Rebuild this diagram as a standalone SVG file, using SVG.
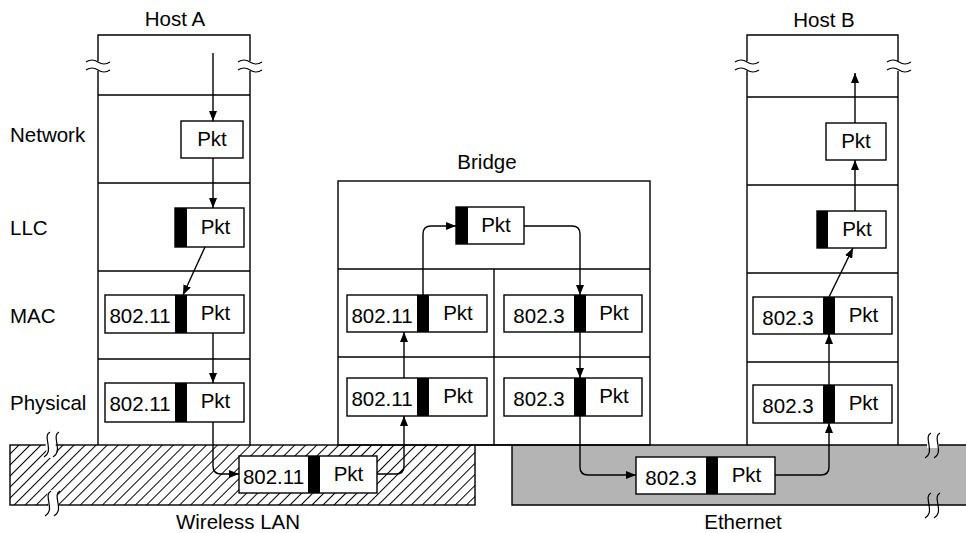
<svg xmlns="http://www.w3.org/2000/svg" width="966" height="533" viewBox="0 0 966 533">
<style>
.ln{fill:none;stroke:#000;stroke-width:1.4}
.bx{fill:#fff;stroke:#000;stroke-width:1.4}
.blk{fill:#000}
.t{font-family:"Liberation Sans",Arial,sans-serif;font-size:20.5px;fill:#000}
.m{text-anchor:middle}
.arr{fill:none;stroke:#000;stroke-width:1.4;marker-end:url(#ah)}
.brk{fill:none;stroke:#000;stroke-width:1.2}
</style>
<defs>
<marker id="ah" viewBox="0 0 10 8" refX="10" refY="4" markerWidth="10" markerHeight="8" markerUnits="userSpaceOnUse" orient="auto">
<path d="M0,0 L10,4 L0,8 z" fill="#000"/>
</marker>
<pattern id="hatch" patternUnits="userSpaceOnUse" width="7.8" height="10" patternTransform="rotate(45)">
<rect width="7.8" height="10" fill="#fff"/>
<line x1="0" y1="0" x2="0" y2="10" stroke="#000" stroke-width="2"/>
</pattern>
</defs>

<g id="media">
<rect x="10" y="445" width="465" height="60" fill="url(#hatch)" stroke="#000" stroke-width="1.4"/>
<line x1="475" y1="445" x2="512" y2="445" class="ln"/>
<path d="M966,445 H512 V505 H966" fill="#b4b4b4" stroke="#000" stroke-width="1.4"/>
<g id="breaks">
<path d="M45,438 L55,438 L57,458 L47,458 Z" fill="#fff"/>
<path d="M47,490 L57,490 L59,512 L49,512 Z" fill="#fff"/>
<path class="brk" d="M50,432 c-4,2 -3,6 -2,12 c1,6 1,10 -4,13"/>
<path class="brk" d="M59,432 c-4,2 -3,6 -2,12 c1,6 1,10 -4,13"/>
<path class="brk" d="M51,491 c-4,2 -3,6 -2,12 c1,6 1,10 -4,13"/>
<path class="brk" d="M60,491 c-4,2 -3,6 -2,12 c1,6 1,10 -4,13"/>
<rect x="927" y="440" width="12" height="8" fill="#fff"/>
<path class="brk" d="M931,433 c-4,2 -3,6 -2,12 c1,6 1,10 -4,13"/>
<path class="brk" d="M940,433 c-4,2 -3,6 -2,12 c1,6 1,10 -4,13"/>
<path class="brk" d="M931,493 c-4,2 -3,6 -2,12 c1,6 1,10 -4,13"/>
<path class="brk" d="M940,493 c-4,2 -3,6 -2,12 c1,6 1,10 -4,13"/>
</g>
<text class="t m" x="238" y="529">Wireless LAN</text>
<text class="t m" x="743" y="529">Ethernet</text>
</g>

<g id="hostA">
<path class="ln" d="M98,445 V35 H250 V445"/>
<line class="ln" x1="98" y1="95" x2="250" y2="95"/>
<line class="ln" x1="98" y1="183" x2="250" y2="183"/>
<line class="ln" x1="98" y1="271" x2="250" y2="271"/>
<line class="ln" x1="98" y1="359" x2="250" y2="359"/>
<rect x="94" y="61" width="8" height="10" fill="#fff"/>
<rect x="246" y="61" width="8" height="10" fill="#fff"/>
<path class="brk" d="M86,62 q6,-4 12,0 t12,0 M86,70 q6,-4 12,0 t12,0"/>
<path class="brk" d="M238,62 q6,-4 12,0 t12,0 M238,70 q6,-4 12,0 t12,0"/>
<text class="t m" x="175" y="26">Host A</text>
<rect class="bx" x="181" y="121" width="62" height="37"/>
<text class="t m" x="212" y="146">Pkt</text>
<rect class="bx" x="175" y="208" width="69" height="39"/>
<rect class="blk" x="175" y="208" width="12" height="39"/>
<text class="t m" x="215.5" y="234">Pkt</text>
<rect class="bx" x="105" y="295" width="139" height="38"/>
<rect class="blk" x="175" y="295" width="12" height="38"/>
<text class="t m" x="140" y="323">802.11</text>
<text class="t m" x="215.5" y="320">Pkt</text>
<rect class="bx" x="105" y="383" width="139" height="39"/>
<rect class="blk" x="175" y="383" width="12" height="39"/>
<text class="t m" x="140" y="411">802.11</text>
<text class="t m" x="215.5" y="408">Pkt</text>
</g>

<g id="labels">
<text class="t" x="10" y="142">Network</text>
<text class="t" x="10" y="235">LLC</text>
<text class="t" x="10" y="323">MAC</text>
<text class="t" x="10" y="410">Physical</text>
</g>

<g id="bridge">
<rect class="ln" x="338" y="181" width="312" height="264"/>
<line class="ln" x1="338" y1="269" x2="650" y2="269"/>
<line class="ln" x1="338" y1="357" x2="650" y2="357"/>
<line class="ln" x1="494" y1="269" x2="494" y2="445"/>
<text class="t m" x="487" y="169">Bridge</text>
<rect class="bx" x="456" y="207" width="68" height="37"/>
<rect class="blk" x="456" y="207" width="12" height="37"/>
<text class="t m" x="496" y="232">Pkt</text>
<rect class="bx" x="347" y="295" width="140" height="37"/>
<rect class="blk" x="417" y="295" width="12" height="37"/>
<text class="t m" x="382" y="323">802.11</text>
<text class="t m" x="458" y="320">Pkt</text>
<rect class="bx" x="504" y="295" width="138" height="37"/>
<rect class="blk" x="574" y="295" width="12" height="37"/>
<text class="t m" x="539" y="323">802.3</text>
<text class="t m" x="614" y="320">Pkt</text>
<rect class="bx" x="347" y="378" width="140" height="38"/>
<rect class="blk" x="417" y="378" width="12" height="38"/>
<text class="t m" x="382" y="406">802.11</text>
<text class="t m" x="458" y="403">Pkt</text>
<rect class="bx" x="504" y="378" width="138" height="38"/>
<rect class="blk" x="574" y="378" width="12" height="38"/>
<text class="t m" x="539" y="406">802.3</text>
<text class="t m" x="614" y="403">Pkt</text>
</g>

<g id="hostB">
<path class="ln" d="M747,445 V35 H898 V445"/>
<line class="ln" x1="747" y1="97" x2="898" y2="97"/>
<line class="ln" x1="747" y1="185" x2="898" y2="185"/>
<line class="ln" x1="747" y1="273" x2="898" y2="273"/>
<line class="ln" x1="747" y1="362" x2="898" y2="362"/>
<rect x="743" y="61" width="8" height="10" fill="#fff"/>
<rect x="894" y="61" width="8" height="10" fill="#fff"/>
<path class="brk" d="M735,62 q6,-4 12,0 t12,0 M735,70 q6,-4 12,0 t12,0"/>
<path class="brk" d="M887,62 q6,-4 12,0 t12,0 M887,70 q6,-4 12,0 t12,0"/>
<text class="t m" x="824" y="27">Host B</text>
<rect class="bx" x="826" y="123" width="60" height="37"/>
<text class="t m" x="856" y="148">Pkt</text>
<rect class="bx" x="817" y="211" width="69" height="37"/>
<rect class="blk" x="817" y="211" width="11" height="37"/>
<text class="t m" x="857" y="236">Pkt</text>
<rect class="bx" x="753" y="297" width="139" height="37"/>
<rect class="blk" x="823" y="297" width="12" height="37"/>
<text class="t m" x="788" y="325">802.3</text>
<text class="t m" x="863.5" y="322">Pkt</text>
<rect class="bx" x="753" y="385" width="139" height="38"/>
<rect class="blk" x="823" y="385" width="12" height="38"/>
<text class="t m" x="788" y="413">802.3</text>
<text class="t m" x="863.5" y="410">Pkt</text>
</g>

<g id="wlanFrame">
<rect class="bx" x="239" y="456" width="138" height="37"/>
<rect class="blk" x="308" y="456" width="12" height="37"/>
<text class="t m" x="273.5" y="484">802.11</text>
<text class="t m" x="348.5" y="481">Pkt</text>
</g>

<g id="ethFrame">
<rect class="bx" x="636" y="457" width="139" height="37"/>
<rect class="blk" x="706" y="457" width="12" height="37"/>
<text class="t m" x="671" y="485">802.3</text>
<text class="t m" x="746.5" y="482">Pkt</text>
</g>

<g id="connectors">
<path class="arr" d="M213,53 V121"/>
<path class="arr" d="M213,158 V208"/>
<path class="arr" d="M205,247 L183,295"/>
<path class="arr" d="M213,333 V383"/>
<path class="arr" d="M213,422 V466 Q213,474 221,474 H239"/>
<path class="arr" d="M377,474 H396 Q404,474 404,466 V416"/>
<path class="arr" d="M404,378 V332"/>
<path class="arr" d="M423,295 V234 Q423,226 431,226 H456"/>
<path class="arr" d="M524,226 H572 Q580,226 580,234 V295"/>
<path class="arr" d="M580,332 V378"/>
<path class="arr" d="M580,416 V467 Q580,475 588,475 H636"/>
<path class="arr" d="M775,475 H821 Q829,475 829,467 V423"/>
<path class="arr" d="M829,385 V334"/>
<path class="arr" d="M829,297 L853,248"/>
<path class="arr" d="M855,211 V160"/>
<path class="arr" d="M855,123 V73"/>
</g>
</svg>
